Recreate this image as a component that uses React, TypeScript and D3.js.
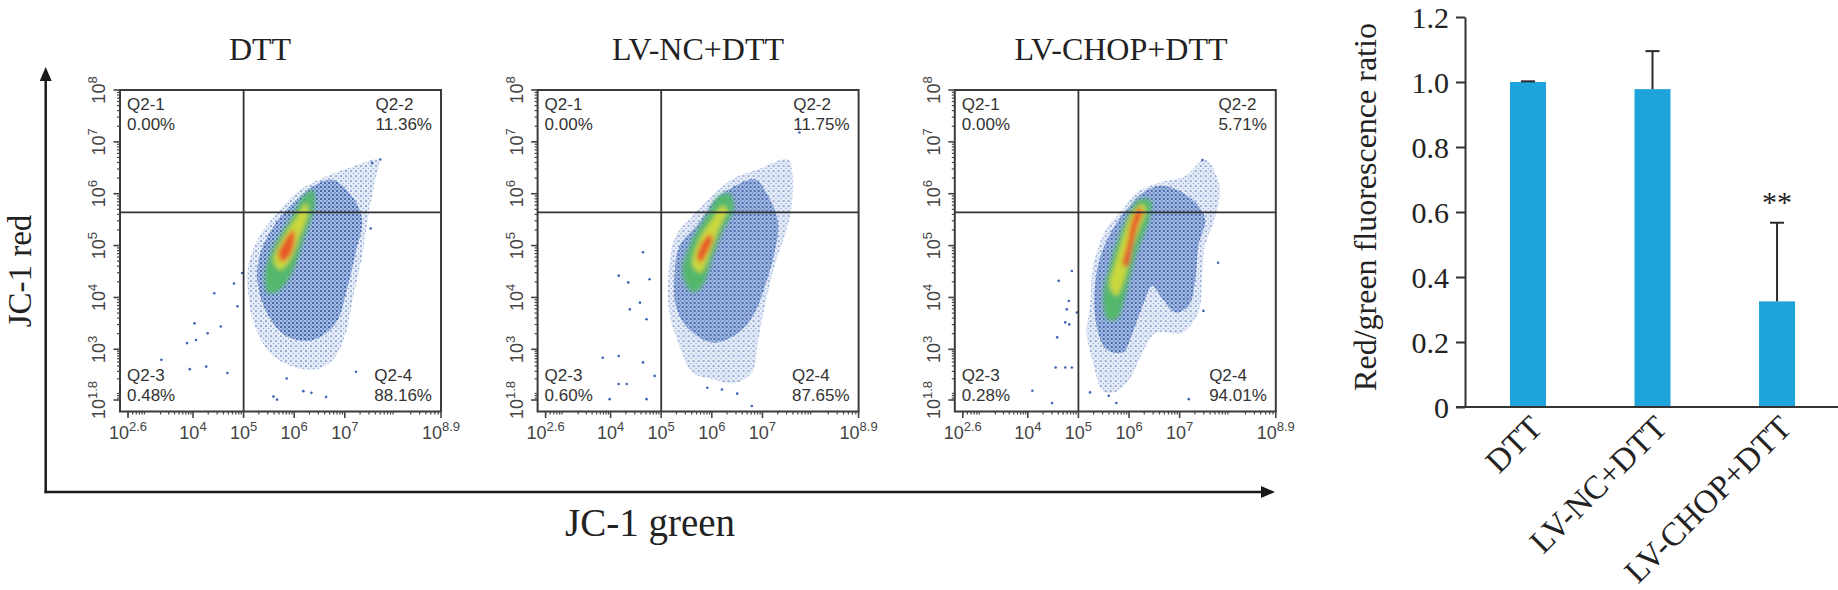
import React, { useEffect, useRef } from "react";
import * as d3 from "d3";

/* ---------- flow cytometry panels (values are log10 exponents: [JC-1 green, JC-1 red]) ---------- */
const panelTitles = ["DTT", "LV-NC+DTT", "LV-CHOP+DTT"];
const quadrantNames = ["Q2-1", "Q2-2", "Q2-3", "Q2-4"];
const percentsDTT = ["0.00%", "11.36%", "0.48%", "88.16%"];
const percentsNC = ["0.00%", "11.75%", "0.60%", "87.65%"];
const percentsCHOP = ["0.00%", "5.71%", "0.28%", "94.01%"];
const xTickExps = [2.6, 4, 5, 6, 7, 8.9];
const yTickExps = [1.8, 3, 4, 5, 6, 7, 8];
const gateGreen = 5;
const gateRed = 5.64;

// density outlines, sparse -> dense -> peak
const sparseDTT = [[5.07, 4.47], [5.27, 5.11], [5.66, 5.62], [6.11, 6.07], [6.63, 6.33], [7.15, 6.52], [7.67, 6.65], [7.6, 6.27], [7.47, 5.62], [7.34, 4.79], [7.15, 3.95], [7.02, 3.31], [6.76, 2.75], [6.37, 2.51], [5.59, 2.83], [5.2, 3.5], [5.1, 4.02]];
const denseDTT = [[5.33, 4.85], [5.59, 5.37], [5.98, 5.82], [6.37, 6.14], [6.76, 6.27], [7.15, 5.94], [7.34, 5.49], [7.21, 4.85], [7.02, 4.08], [6.82, 3.5], [6.37, 3.18], [5.85, 3.25], [5.46, 3.7], [5.27, 4.34]];
const greenDTT = [[5.43, 4.47], [5.59, 4.98], [5.92, 5.5], [6.18, 5.94], [6.37, 6.07], [6.4, 5.75], [6.18, 5.11], [5.98, 4.53], [5.72, 4.15], [5.49, 4.08]];
const yellowDTT = [[5.59, 4.72], [5.79, 5.17], [6.05, 5.56], [6.24, 5.82], [6.27, 5.62], [6.08, 5.11], [5.92, 4.72], [5.72, 4.53]];
const redDTT = [[5.69, 4.85], [5.82, 5.11], [5.98, 5.3], [6.01, 5.14], [5.92, 4.82], [5.75, 4.69]];
const eventsDTT = [[4.81, 4.27], [4.42, 4.08], [4.97, 4.47], [4.06, 3.18], [3.87, 3.12], [4.29, 3.31], [4.55, 3.44], [4.03, 3.5], [3.32, 2.75], [4.88, 3.83], [7.54, 6.59], [7.7, 6.66], [7.51, 5.33], [3.93, 2.53], [4.26, 2.59], [4.68, 2.44], [5.59, 1.88], [5.66, 1.81], [6.18, 2.01], [6.34, 1.97], [6.63, 1.87], [7.22, 2.47], [5.85, 2.31]];

const sparseNC = [[5.16, 4.61], [5.29, 5.19], [5.62, 5.57], [6.01, 5.96], [6.4, 6.28], [6.92, 6.47], [7.5, 6.66], [7.6, 6.34], [7.56, 5.64], [7.44, 5.19], [7.24, 4.61], [7.05, 3.84], [6.92, 3.2], [6.79, 2.45], [6.45, 2.2], [6.0, 2.3], [5.62, 2.45], [5.36, 3.07], [5.16, 3.71]];
const denseNC = [[5.26, 4.35], [5.36, 4.99], [5.75, 5.44], [6.07, 5.89], [6.46, 6.15], [6.85, 6.28], [7.11, 5.96], [7.31, 5.44], [7.24, 4.87], [7.05, 4.22], [6.85, 3.71], [6.53, 3.32], [6.01, 3.13], [5.49, 3.45], [5.29, 3.84]];
const greenNC = [[5.42, 4.48], [5.62, 5.12], [5.94, 5.64], [6.14, 5.96], [6.36, 5.99], [6.43, 5.7], [6.2, 5.25], [6.01, 4.74], [5.81, 4.22], [5.62, 4.1]];
const yellowNC = [[5.62, 4.61], [5.75, 5.12], [6.01, 5.51], [6.2, 5.76], [6.3, 5.7], [6.14, 5.32], [5.97, 4.87], [5.78, 4.48]];
const redNC = [[5.71, 4.74], [5.81, 5.06], [5.97, 5.22], [6.01, 5.12], [5.91, 4.87], [5.78, 4.67]];
const eventsNC = [[4.16, 4.42], [4.35, 4.29], [4.64, 4.87], [4.58, 3.9], [4.71, 3.58], [3.83, 2.8], [4.16, 2.84], [4.64, 2.69], [4.87, 2.37], [4.16, 2.18], [4.32, 2.18], [4.71, 1.82], [3.98, 1.82], [4.38, 3.77], [4.77, 4.35], [7.73, 7.18], [6.79, 1.68], [5.91, 2.09], [6.5, 1.95], [6.2, 2.05]];

const sparseCHOP = [[5.23, 3.84], [5.29, 4.61], [5.55, 5.32], [5.88, 5.7], [6.14, 6.02], [6.59, 6.21], [7.11, 6.34], [7.5, 6.66], [7.79, 6.15], [7.69, 5.51], [7.5, 4.99], [7.44, 4.35], [7.37, 3.71], [7.05, 3.32], [6.53, 3.32], [6.27, 2.93], [6.01, 2.3], [5.75, 2.0], [5.49, 2.0], [5.29, 2.69], [5.16, 3.32]];
const denseCHOP = [[5.32, 4.1], [5.42, 4.74], [5.68, 5.32], [6.01, 5.76], [6.27, 6.02], [6.59, 6.15], [6.92, 6.09], [7.31, 5.83], [7.5, 5.51], [7.37, 4.99], [7.31, 4.35], [7.18, 3.84], [6.92, 3.71], [6.66, 3.97], [6.46, 4.22], [6.27, 3.84], [6.07, 3.32], [5.88, 2.93], [5.55, 3.0], [5.36, 3.45]];
const greenCHOP = [[5.49, 4.03], [5.62, 4.61], [5.81, 5.19], [6.01, 5.64], [6.2, 5.89], [6.43, 5.86], [6.4, 5.51], [6.2, 4.99], [6.04, 4.48], [5.91, 3.97], [5.75, 3.58], [5.58, 3.58]];
const yellowCHOP = [[5.62, 4.22], [5.75, 4.74], [5.91, 5.25], [6.07, 5.64], [6.27, 5.8], [6.33, 5.67], [6.2, 5.32], [6.04, 4.87], [5.91, 4.35], [5.75, 4.03]];
const redCHOP = [[5.88, 4.61], [5.97, 5.06], [6.07, 5.51], [6.2, 5.73], [6.27, 5.67], [6.17, 5.38], [6.07, 4.99], [5.97, 4.61]];
const eventsCHOP = [[4.87, 4.51], [4.61, 4.32], [4.81, 3.93], [4.77, 3.77], [4.74, 3.52], [4.82, 3.48], [4.97, 3.71], [4.58, 3.23], [4.55, 2.57], [4.74, 2.57], [4.87, 2.57], [4.09, 2.02], [4.48, 1.74], [5.23, 1.98], [7.45, 6.65], [7.76, 4.67], [7.18, 1.82], [7.47, 3.74], [5.75, 1.74], [5.6, 1.9]];

/* ---------- bar chart ---------- */
const barGroups = ["DTT", "LV-NC+DTT", "LV-CHOP+DTT"];
const ratioMeans = [1.0, 0.978, 0.325];
const ratioErrors = [0.002, 0.117, 0.242];
const ratioMarks = ["", "", "**"];
const ratioTicks = [0, 0.2, 0.4, 0.6, 0.8, 1.0, 1.2];

const SANS = "'Liberation Sans', Arial, sans-serif";
const SERIF = "'Liberation Serif', 'Times New Roman', serif";

const App = () => {
  const ref = useRef<SVGSVGElement>(null);

  useEffect(() => {
    const svg = d3.select(ref.current);
    svg.selectAll("*").remove();

    const panels = [
      { percents: percentsDTT, sparse: sparseDTT, dense: denseDTT, green: greenDTT, yellow: yellowDTT, red: redDTT, events: eventsDTT },
      { percents: percentsNC, sparse: sparseNC, dense: denseNC, green: greenNC, yellow: yellowNC, red: redNC, events: eventsNC },
      { percents: percentsCHOP, sparse: sparseCHOP, dense: denseCHOP, green: greenCHOP, yellow: yellowCHOP, red: redCHOP, events: eventsCHOP },
    ];

    /* layout */
    const flowLeft = [120, 537.6, 954.8];
    const titleX = [260, 698, 1121];
    const flowTop = 90;
    const W = 321;
    const H = 321.5;

    /* texture + softening for the density plots */
    const defs = svg.append("defs");
    const sparseTex = defs.append("pattern").attr("id", "speckleSparse")
      .attr("patternUnits", "userSpaceOnUse").attr("width", 5).attr("height", 5);
    sparseTex.append("circle").attr("cx", 1).attr("cy", 1).attr("r", 0.85).attr("fill", "#4f74bd");
    sparseTex.append("circle").attr("cx", 3.5).attr("cy", 3.5).attr("r", 0.7).attr("fill", "#8aa5d6");
    const denseTex = defs.append("pattern").attr("id", "speckleDense")
      .attr("patternUnits", "userSpaceOnUse").attr("width", 4).attr("height", 4);
    denseTex.append("circle").attr("cx", 1).attr("cy", 1).attr("r", 0.95).attr("fill", "#1c469a");
    denseTex.append("circle").attr("cx", 3).attr("cy", 3).attr("r", 0.8).attr("fill", "#3b69ba");
    defs.append("filter").attr("id", "soften").attr("x", "-20%").attr("y", "-20%").attr("width", "140%").attr("height", "140%")
      .append("feGaussianBlur").attr("stdDeviation", 2.2);

    // biexponential-like display: low end slightly compressed
    const x = d3.scaleLinear().domain([2.43, 2.6, 4, 8.9]).range([0, 8, 73, W]);
    const y = d3.scaleLinear().domain([1.57, 1.8, 3, 8]).range([H, 310, 259.3, 0]);
    const outline = d3.line<number[]>()
      .x((d) => x(d[0]))
      .y((d) => y(d[1]))
      .curve(d3.curveCatmullRomClosed.alpha(0.5));

    const minorX = d3.range(2, 9).flatMap((dec) => d3.range(2, 10).map((k) => dec + Math.log10(k))).filter((e) => e > 2.6 && e < 8.9);
    const minorY = d3.range(1, 8).flatMap((dec) => d3.range(2, 10).map((k) => dec + Math.log10(k))).filter((e) => e > 1.8 && e < 8);

    panels.forEach((p, i) => {
      svg.append("text")
        .attr("x", titleX[i]).attr("y", 60)
        .attr("text-anchor", "middle")
        .attr("font-family", SERIF).attr("font-size", 32).attr("fill", "#222")
        .text(panelTitles[i]);

      const g = svg.append("g").attr("transform", `translate(${flowLeft[i]},${flowTop})`);
      defs.append("clipPath").attr("id", `plotClip${i}`)
        .append("rect").attr("width", W).attr("height", H);

      const dens = g.append("g").attr("clip-path", `url(#plotClip${i})`);
      dens.append("path").datum(p.sparse).attr("d", outline).attr("fill", "#e6ecf7");
      dens.append("path").datum(p.sparse).attr("d", outline).attr("fill", "url(#speckleSparse)");
      dens.append("path").datum(p.dense).attr("d", outline).attr("fill", "#a9bde3");
      dens.append("path").datum(p.dense).attr("d", outline).attr("fill", "url(#speckleDense)");
      const core = dens.append("g").attr("filter", "url(#soften)");
      core.append("path").datum(p.green).attr("d", outline).attr("fill", "#52b86c");
      core.append("path").datum(p.yellow).attr("d", outline).attr("fill", "#c9d83e");
      core.append("path").datum(p.red).attr("d", outline).attr("fill", "#e8582b");
      dens.append("g").selectAll("circle").data(p.events).join("circle")
        .attr("cx", (d) => x(d[0])).attr("cy", (d) => y(d[1]))
        .attr("r", 1.3).attr("fill", "#3d64b2");

      /* quadrant gates */
      g.append("line").attr("x1", x(gateGreen)).attr("x2", x(gateGreen)).attr("y1", 0).attr("y2", H)
        .attr("stroke", "#333").attr("stroke-width", 1.8);
      g.append("line").attr("x1", 0).attr("x2", W).attr("y1", y(gateRed)).attr("y2", y(gateRed))
        .attr("stroke", "#333").attr("stroke-width", 1.8);

      g.append("rect").attr("width", W).attr("height", H)
        .attr("fill", "none").attr("stroke", "#3a3a3a").attr("stroke-width", 2);

      /* ticks */
      const tickG = g.append("g").attr("stroke", "#444").attr("stroke-width", 1.2);
      tickG.selectAll(".mx").data(minorX).join("line")
        .attr("x1", (e) => x(e)).attr("x2", (e) => x(e)).attr("y1", H).attr("y2", H + 3);
      tickG.selectAll(".Mx").data(xTickExps).join("line")
        .attr("x1", (e) => x(e)).attr("x2", (e) => x(e)).attr("y1", H).attr("y2", H + 6.5)
        .attr("stroke-width", 1.6);
      tickG.selectAll(".my").data(minorY).join("line")
        .attr("y1", (e) => y(e)).attr("y2", (e) => y(e)).attr("x1", 0).attr("x2", -3);
      tickG.selectAll(".My").data(yTickExps).join("line")
        .attr("y1", (e) => y(e)).attr("y2", (e) => y(e)).attr("x1", 0).attr("x2", -6.5)
        .attr("stroke-width", 1.6);

      const powerLabel = (sel, e) => {
        sel.append("tspan").text("10");
        sel.append("tspan").attr("font-size", 13).attr("dy", -8).text(String(e));
      };
      xTickExps.forEach((e) => {
        const t = g.append("text")
          .attr("x", x(e)).attr("y", H + 27)
          .attr("text-anchor", "middle")
          .attr("font-family", SANS).attr("font-size", 18).attr("fill", "#444");
        powerLabel(t, e);
      });
      yTickExps.forEach((e) => {
        const t = g.append("text")
          .attr("transform", `translate(-15,${y(e)}) rotate(-90)`)
          .attr("text-anchor", "middle")
          .attr("font-family", SANS).attr("font-size", 18).attr("fill", "#444");
        powerLabel(t, e);
      });

      /* quadrant statistics */
      const qText = (tx, ty, s) => g.append("text")
        .attr("x", tx).attr("y", ty)
        .attr("font-family", SANS).attr("font-size", 17).attr("fill", "#333")
        .text(s);
      qText(7, 20, quadrantNames[0]);
      qText(7, 39.5, p.percents[0]);
      qText(7, 291, quadrantNames[2]);
      qText(7, 311, p.percents[2]);
      [[1, 20, 39.5], [3, 291, 311]].forEach(([q, y1, y2]) => {
        const pct = qText(0, y2, p.percents[q]);
        const w = (pct.node() as SVGTextElement).getComputedTextLength();
        pct.attr("x", W - 9 - w);
        qText(W - 9 - w, y1, quadrantNames[q]);
      });
    });

    /* shared JC-1 axes */
    const axisG = svg.append("g").attr("fill", "#1a1a1a");
    axisG.append("line").attr("x1", 45.7).attr("x2", 45.7).attr("y1", 493.2).attr("y2", 78)
      .attr("stroke", "#1a1a1a").attr("stroke-width", 2.5);
    axisG.append("path").attr("d", "M45.7,67 L39.7,81 L51.7,81 Z");
    axisG.append("line").attr("x1", 44.5).attr("x2", 1264).attr("y1", 492).attr("y2", 492)
      .attr("stroke", "#1a1a1a").attr("stroke-width", 2.5);
    axisG.append("path").attr("d", "M1275,492 L1261,486 L1261,498 Z");
    svg.append("text")
      .attr("transform", "translate(20,271) rotate(-90)")
      .attr("text-anchor", "middle").attr("dominant-baseline", "central")
      .attr("font-family", SERIF).attr("font-size", 33).attr("fill", "#222")
      .text("JC-1 red");
    svg.append("text")
      .attr("x", 650).attr("y", 536)
      .attr("text-anchor", "middle")
      .attr("font-family", SERIF).attr("font-size", 39).attr("fill", "#222")
      .text("JC-1 green");

    /* ---------- ratio bar chart ---------- */
    const yR = d3.scaleLinear().domain([0, 1.2]).range([407, 17]);
    const xB = d3.scaleBand().domain(barGroups).range([1465, 1840]).paddingInner(0.711).paddingOuter(0.361);

    const bars = svg.append("g");
    bars.selectAll("rect").data(barGroups).join("rect")
      .attr("x", (d) => xB(d))
      .attr("width", xB.bandwidth())
      .attr("y", (d, i) => yR(ratioMeans[i]))
      .attr("height", (d, i) => yR(0) - yR(ratioMeans[i]))
      .attr("fill", "#1fa3db");

    const errG = svg.append("g").attr("stroke", "#2a2a2a").attr("stroke-width", 2);
    barGroups.forEach((d, i) => {
      const cx = xB(d) + xB.bandwidth() / 2;
      const top = yR(ratioMeans[i] + ratioErrors[i]);
      errG.append("line").attr("x1", cx).attr("x2", cx).attr("y1", yR(ratioMeans[i])).attr("y2", top);
      errG.append("line").attr("x1", cx - 7).attr("x2", cx + 7).attr("y1", top).attr("y2", top);
      if (ratioMarks[i]) {
        svg.append("text")
          .attr("x", cx).attr("y", top - 11)
          .attr("text-anchor", "middle")
          .attr("font-family", SERIF).attr("font-size", 30).attr("fill", "#222")
          .text(ratioMarks[i]);
      }
    });

    const yAxis = svg.append("g")
      .attr("transform", "translate(1465,0)")
      .call(d3.axisLeft(yR).tickValues(ratioTicks).tickSize(9).tickSizeOuter(0).tickPadding(7)
        .tickFormat((v) => (v === 0 ? "0" : d3.format(".1f")(v))));
    yAxis.select(".domain").attr("stroke", "#333").attr("stroke-width", 2);
    yAxis.selectAll(".tick line").attr("stroke", "#333").attr("stroke-width", 2);
    yAxis.selectAll(".tick text").attr("font-family", SERIF).attr("font-size", 30).attr("fill", "#222").attr("dy", "0.34em");

    svg.append("line").attr("x1", 1456).attr("x2", 1838).attr("y1", yR(0)).attr("y2", yR(0))
      .attr("stroke", "#333").attr("stroke-width", 2);

    svg.append("g").selectAll("text").data(barGroups).join("text")
      .attr("transform", (d) => `translate(${xB(d) + xB.bandwidth() / 2},${yR(0) + 6}) rotate(-45)`)
      .attr("text-anchor", "end")
      .attr("dominant-baseline", "hanging")
      .attr("font-family", SERIF).attr("font-size", 33).attr("fill", "#222")
      .text((d) => d);

    svg.append("text")
      .attr("transform", "translate(1365,207) rotate(-90)")
      .attr("text-anchor", "middle").attr("dominant-baseline", "central")
      .attr("font-family", SERIF).attr("font-size", 32).attr("fill", "#222")
      .text("Red/green fluorescence ratio");
  }, []);

  return (
    <svg
      ref={ref}
      width={1838}
      height={590}
      style={{ position: "absolute", left: 0, top: 0, background: "#fff", display: "block" }}
    />
  );
};

export default App;
